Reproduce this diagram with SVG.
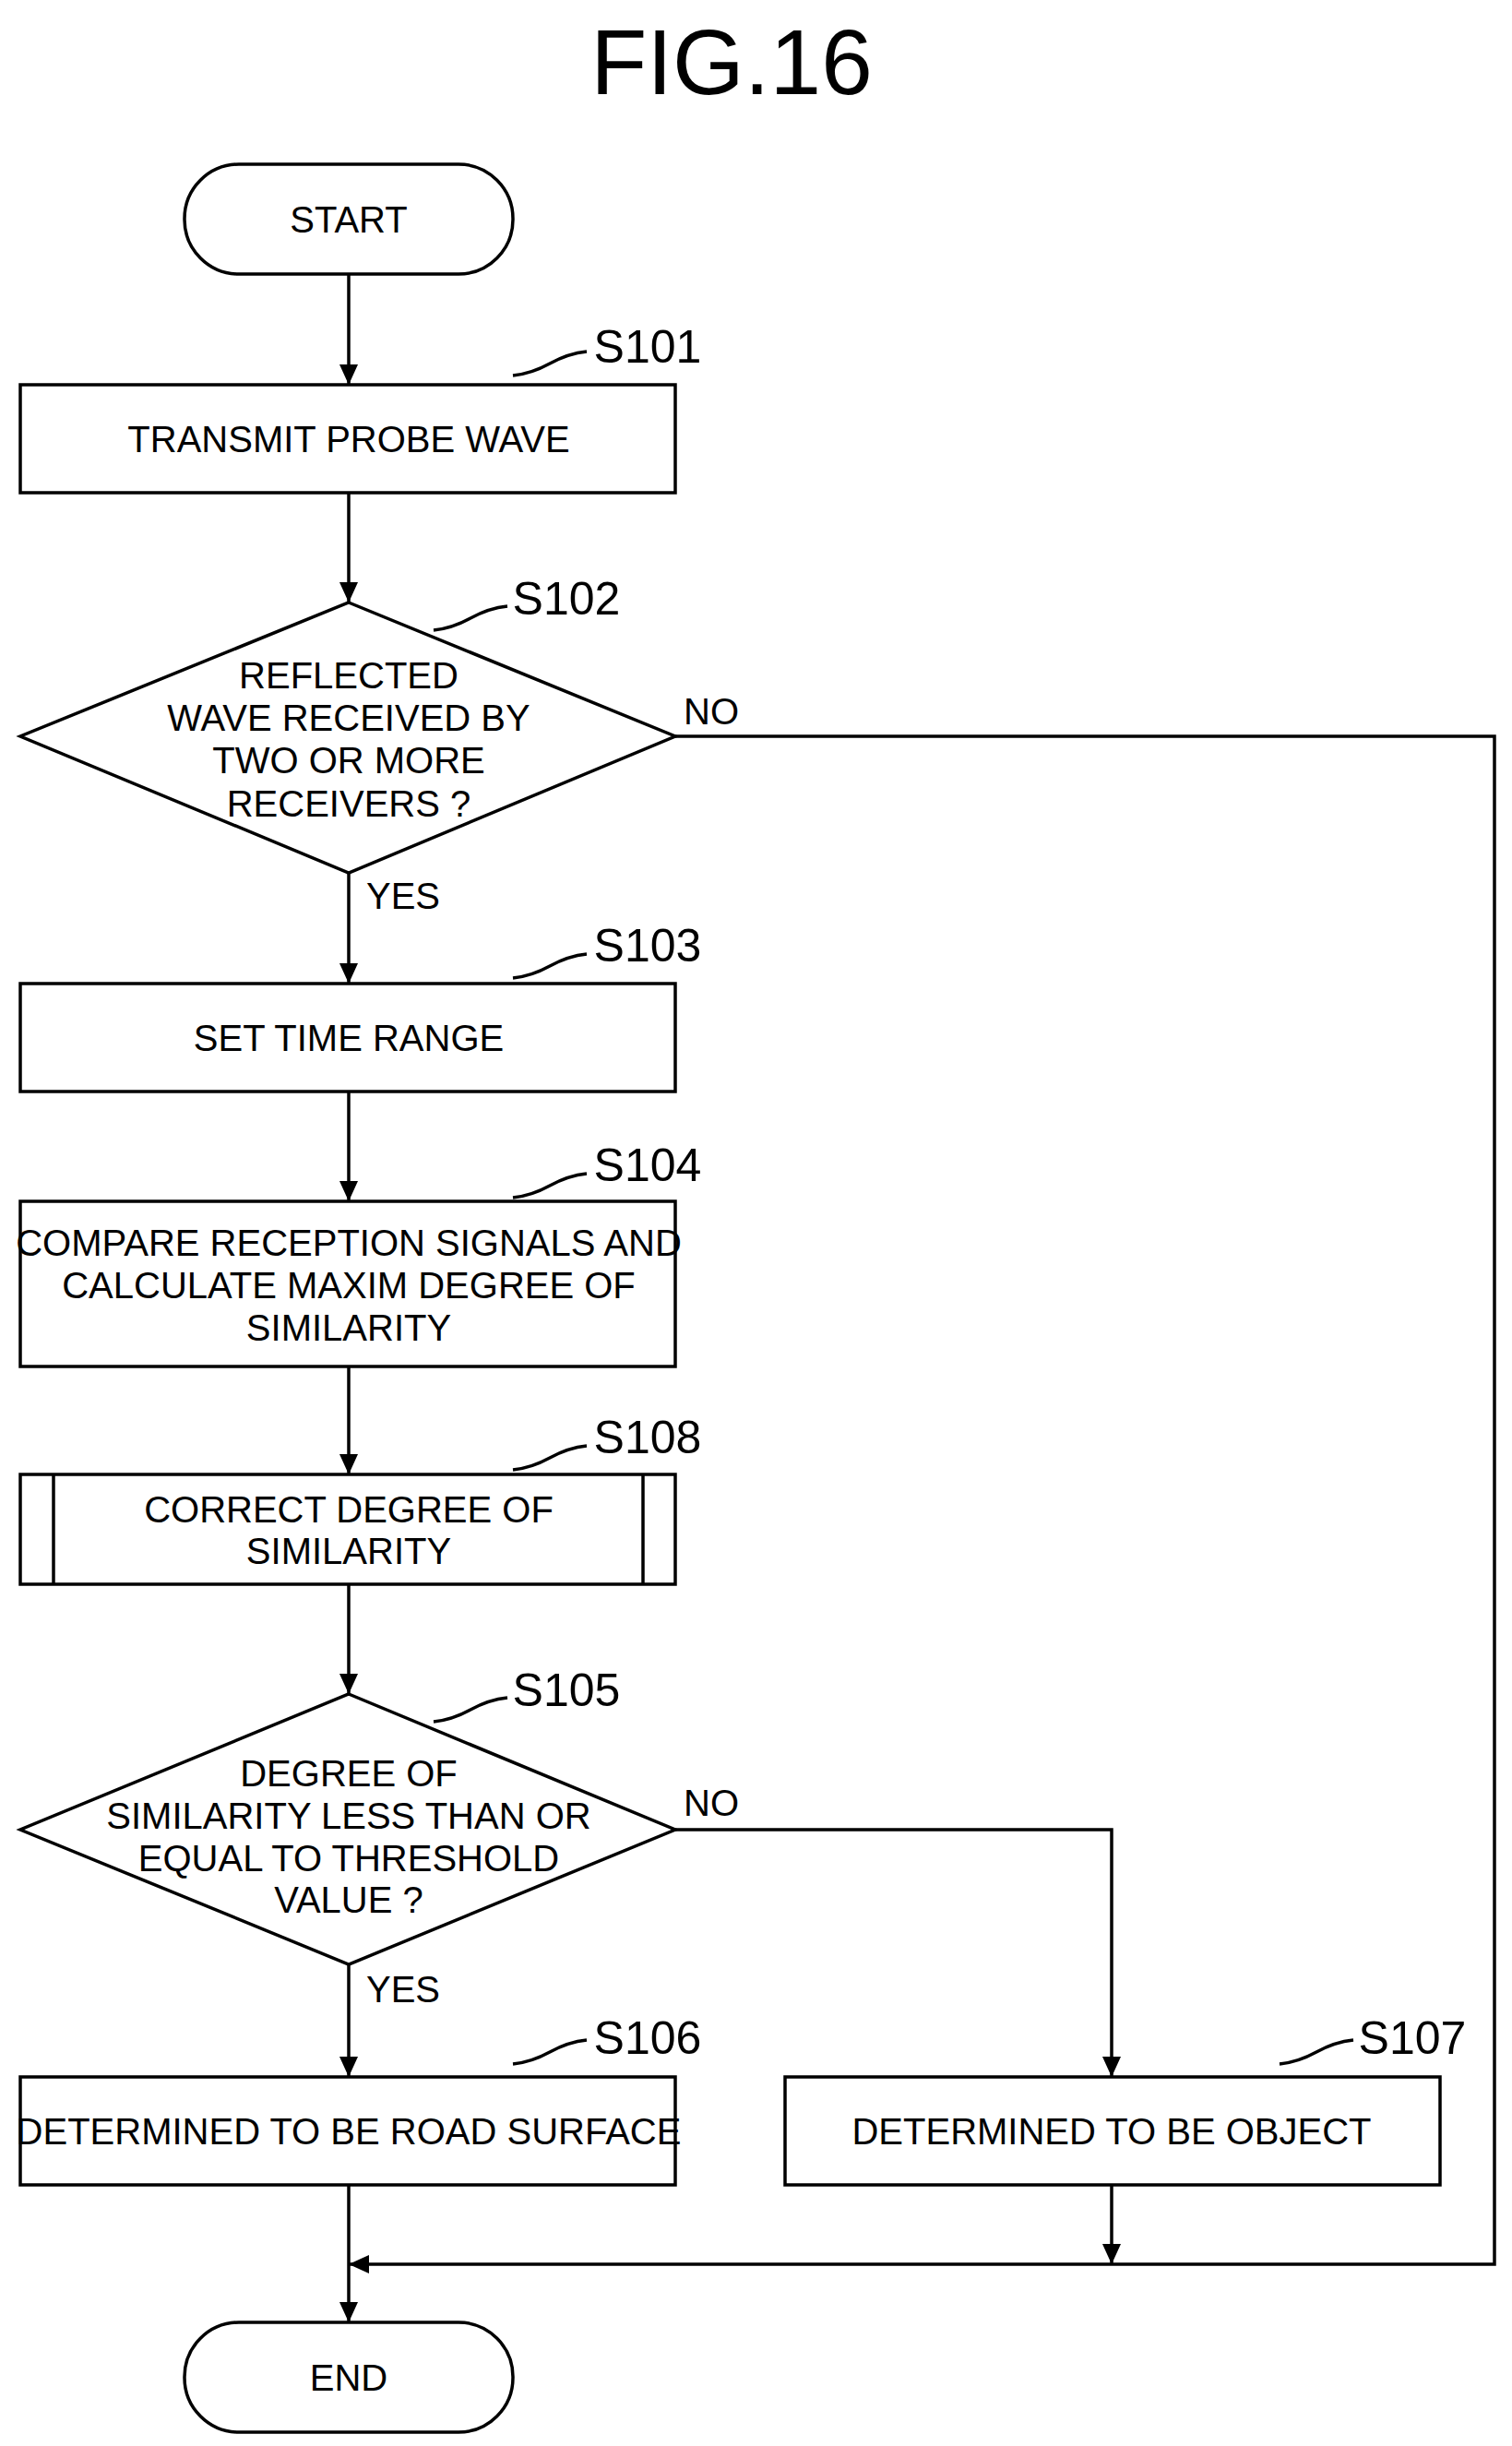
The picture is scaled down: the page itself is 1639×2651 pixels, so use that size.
<svg xmlns="http://www.w3.org/2000/svg" width="1639" height="2651" viewBox="0 0 1639 2651">
<style>
.s{fill:#fff;stroke:#000;stroke-width:3.5}
.l{fill:none;stroke:#000;stroke-width:3.5}
text{font-family:"Liberation Sans",Arial,sans-serif;font-size:40px;text-anchor:middle;fill:#000}
.lb{font-size:50px}
</style>
<defs><marker id="a" markerWidth="12" markerHeight="12" refX="10" refY="6" orient="auto" markerUnits="userSpaceOnUse" viewBox="0 0 12 12"><path d="M0,0 L12,6 L0,12 Z" fill="#000"/></marker>
<marker id="b" markerWidth="24" markerHeight="24" refX="22" refY="12" orient="auto" markerUnits="userSpaceOnUse"><path d="M0,2 L22,12 L0,22 Z" fill="#000"/></marker></defs>
<text x="793" y="102" style="font-size:100px">FIG.16</text>
<g id="connectors" class="l">
<path d="M378,297V417" marker-end="url(#b)"/>
<path d="M378,534V653" marker-end="url(#b)"/>
<path d="M378,946V1066" marker-end="url(#b)"/>
<path d="M378,1183V1302" marker-end="url(#b)"/>
<path d="M378,1481V1598" marker-end="url(#b)"/>
<path d="M378,1717V1836" marker-end="url(#b)"/>
<path d="M378,2129V2251" marker-end="url(#b)"/>
<path d="M732,798H1620V2454H378" marker-end="url(#b)"/>
<path d="M378,2368V2517" marker-end="url(#b)"/>
<path d="M732,1983H1205V2251" marker-end="url(#b)"/>
<path d="M1205,2368V2454" marker-end="url(#b)"/>
<path d="M556,407q20,-2 40,-13t40,-13"/>
<path d="M470,683q20,-2 40,-13t40,-13"/>
<path d="M556,1060q20,-2 40,-13t40,-13"/>
<path d="M556,1298q20,-2 40,-13t40,-13"/>
<path d="M556,1593q20,-2 40,-13t40,-13"/>
<path d="M470,1866q20,-2 40,-13t40,-13"/>
<path d="M556,2237q20,-2 40,-13t40,-13"/>
<path d="M1387,2237q20,-2 40,-13t40,-13"/>
</g>
<text x="771" y="785">NO</text><text x="437" y="985">YES</text>
<text x="771" y="1968">NO</text><text x="437" y="2170">YES</text>
<g id="start"><rect class="s" x="200" y="178" width="356" height="119" rx="59"/><text x="378" y="252">START</text></g>
<g id="S101"><rect class="s" x="22" y="417" width="710" height="117"/><text x="378" y="490">TRANSMIT PROBE WAVE</text><text class="lb" x="702" y="393">S101</text></g>
<g id="S102"><path class="s" d="M378,653L732,798L378,946L22,798Z"/><text x="378" y="746">REFLECTED</text><text x="378" y="792">WAVE RECEIVED BY</text><text x="378" y="838">TWO OR MORE</text><text x="378" y="885">RECEIVERS ?</text><text class="lb" x="614" y="666">S102</text></g>
<g id="S103"><rect class="s" x="22" y="1066" width="710" height="117"/><text x="378" y="1139">SET TIME RANGE</text><text class="lb" x="702" y="1042">S103</text></g>
<g id="S104"><rect class="s" x="22" y="1302" width="710" height="179"/><text x="378" y="1361">COMPARE RECEPTION SIGNALS AND</text><text x="378" y="1407">CALCULATE MAXIM DEGREE OF</text><text x="378" y="1453">SIMILARITY</text><text class="lb" x="702" y="1280">S104</text></g>
<g id="S108"><rect class="s" x="22" y="1598" width="710" height="119"/><path class="l" d="M58,1598V1717M697,1598V1717"/><text x="378" y="1650">CORRECT DEGREE OF</text><text x="378" y="1695">SIMILARITY</text><text class="lb" x="702" y="1575">S108</text></g>
<g id="S105"><path class="s" d="M378,1836L732,1983L378,2129L22,1983Z"/><text x="378" y="1936">DEGREE OF</text><text x="378" y="1982">SIMILARITY LESS THAN OR</text><text x="378" y="2028">EQUAL TO THRESHOLD</text><text x="378" y="2073">VALUE ?</text><text class="lb" x="614" y="1849">S105</text></g>
<g id="S106"><rect class="s" x="22" y="2251" width="710" height="117"/><text x="378" y="2324">DETERMINED TO BE ROAD SURFACE</text><text class="lb" x="702" y="2226">S106</text></g>
<g id="S107"><rect class="s" x="851" y="2251" width="710" height="117"/><text x="1205" y="2324">DETERMINED TO BE OBJECT</text><text class="lb" x="1531" y="2226">S107</text></g>
<g id="end"><rect class="s" x="200" y="2517" width="356" height="119" rx="59"/><text x="378" y="2591">END</text></g>
</svg>
